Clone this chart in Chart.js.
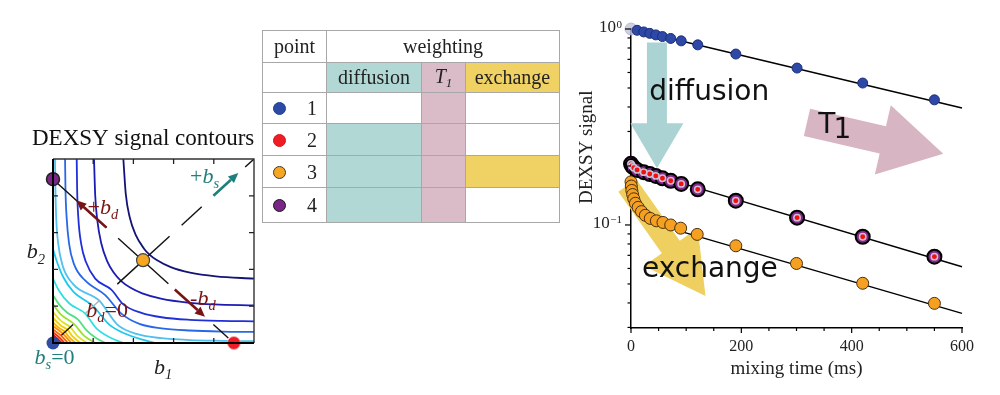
<!DOCTYPE html>
<html>
<head>
<meta charset="utf-8">
<script src="https://cdn.jsdelivr.net/npm/chart.js@4.4.1/dist/chart.umd.min.js"></script>
<style>
  html, body { margin:0; padding:0; background:#fff; }
  body { width:1000px; height:395px; position:relative; overflow:hidden; }
  #contourCanvas { position:absolute; left:0; top:115px; }
  #decayCanvas { position:absolute; left:560px; top:0; }
  #wtable { position:absolute; left:262px; top:30px; border-collapse:collapse; table-layout:fixed; width:297px;
            font-family:'Liberation Serif','Times New Roman',serif; font-size:20px; color:#222; }
  #wtable td { border:1px solid #a8a8a8; padding:0; text-align:center; vertical-align:middle; }
  .dot { display:inline-block; width:13px; height:13px; border-radius:50%; box-sizing:border-box; vertical-align:middle; }
</style>
</head>
<body>
<canvas id="contourCanvas" width="270" height="280"></canvas>
<table id="wtable"></table>
<canvas id="decayCanvas" width="440" height="395"></canvas>
<script>
// ---------------- DATA: decay curves (right panel) ----------------
const blueTime    = [0, 11, 23, 34, 45, 57, 72, 91, 121, 190, 301, 420, 550];
const blueSignal  = [1.0, 0.985, 0.966, 0.95, 0.933, 0.915, 0.895, 0.87, 0.83, 0.745, 0.632, 0.53, 0.435];
const purpleTime   = [0, 2, 5, 11, 23, 34, 45, 57, 72, 91, 121, 190, 301, 420, 550];
const purpleSignal = [0.205, 0.2, 0.196, 0.191, 0.186, 0.182, 0.178, 0.173, 0.168, 0.162, 0.152, 0.133, 0.109, 0.0871, 0.0689];
const redTime   = [0, 2, 5, 11, 23, 34, 45, 57, 72, 91, 121, 190, 301, 420, 550];
const redSignal = [0.205, 0.2, 0.196, 0.191, 0.186, 0.182, 0.178, 0.173, 0.168, 0.162, 0.152, 0.133, 0.109, 0.0871, 0.0689];
const orangeTime   = [0, 0.5, 1.5, 3, 5, 8, 13, 19, 26, 35, 46, 58, 72, 90, 120, 190, 300, 420, 550];
const orangeSignal = [0.166, 0.158, 0.15, 0.143, 0.136, 0.129, 0.123, 0.117, 0.112, 0.108, 0.105, 0.103, 0.1, 0.0963, 0.0895, 0.0783, 0.0636, 0.0504, 0.0398];
const fit1Time = [0, 600],  fit1Signal = [1.0, 0.395];
const fit24Time = [0, 600], fit24Signal = [0.195, 0.0612];
const fit3Time = [90, 600], fit3Signal = [0.0928, 0.0354];
const xTickMarks = [0, 50, 100, 150, 200, 250, 300, 350, 400, 450, 500, 550, 600];
const xLabelTicks = [0, 200, 400, 600];
const yMajorTicks = [1, 0.1];
const yMajorExponents = ['0', '\u22121'];
const yMinorTicks = [0.03, 0.04, 0.05, 0.06, 0.07, 0.08, 0.09, 0.2, 0.3, 0.4, 0.5, 0.6, 0.7, 0.8, 0.9];

// annotations (right panel), in data units
const annoArrows = [
  { from: [47, 0.854], to: [47, 0.195], shaft: 20, head: 53, len: 45, color: '#acd3d3' },
  { from: [319, 0.334], to: [566, 0.231], shaft: 28, head: 71, len: 62, color: '#d8b5c3' },
  { from: [-6.7, 0.159], to: [135, 0.0434], shaft: 22, head: 66, len: 60, color: '#efcf5f' }
];
const annoTexts = [
  { text: 'diffusion', at: [33.2, 0.435] },
  { text: 'T', sub: '1', at: [339.5, 0.295] },
  { text: 'exchange', at: [19.9, 0.0544] }
];

// ---------------- DATA: contour panel (left) ----------------
const contourX = [
  [1.75, 1.81, 1.91, 2.06, 2.26, 2.40, 2.57, 2.93, 3.41, 4.05, 5],
  [1.02, 1.05, 1.1, 1.2, 1.35, 1.5, 1.69, 1.93, 2.22, 2.71, 3.35, 4.01, 5],
  [0.59, 0.6, 0.63, 0.7, 0.82, 1.05, 1.45, 1.75, 2.2, 2.7, 3.4, 4.2, 5],
  [0.3, 0.31, 0.34, 0.4, 0.52, 0.8, 1.3, 1.7, 2.15, 2.7, 3.4, 4.2, 5],
  [0.05, 0.06, 0.08, 0.13, 0.24, 0.5, 1.15, 1.6, 2.1, 2.7, 3.4, 4.2, 5],
  [0, 0.1, 0.25, 0.5, 1.0, 1.4, 1.8, 2.2, 2.55],
  [0, 0.15, 0.4, 0.8, 1.08, 1.42, 1.75],
  [0, 0.15, 0.35, 0.63, 0.83, 1.05, 1.3],
  [0, 0.2, 0.52, 0.77, 1.05],
  [0, 0.2, 0.43, 0.6, 0.84],
  [0, 0.2, 0.36, 0.47, 0.68],
  [0, 0.15, 0.3, 0.41, 0.56],
  [0, 0.25, 0.46],
  [0, 0.2, 0.37],
  [0, 0.155, 0.29],
  [0, 0.115, 0.22],
  [0, 0.085, 0.16],
  [0, 0.053, 0.10]
];
const contourY = [
  [5, 4.05, 3.41, 2.93, 2.57, 2.40, 2.26, 2.06, 1.91, 1.81, 1.75],
  [5, 4.01, 3.35, 2.71, 2.22, 1.93, 1.69, 1.5, 1.35, 1.2, 1.1, 1.05, 1.02],
  [5, 4.2, 3.4, 2.7, 2.2, 1.75, 1.45, 1.05, 0.82, 0.7, 0.63, 0.6, 0.59],
  [5, 4.2, 3.4, 2.7, 2.15, 1.7, 1.3, 0.8, 0.52, 0.4, 0.34, 0.31, 0.3],
  [5, 4.2, 3.4, 2.7, 2.1, 1.6, 1.15, 0.5, 0.24, 0.13, 0.08, 0.06, 0.05],
  [2.55, 2.2, 1.8, 1.4, 1.0, 0.5, 0.25, 0.1, 0],
  [1.75, 1.42, 1.08, 0.8, 0.4, 0.15, 0],
  [1.3, 1.05, 0.83, 0.63, 0.35, 0.15, 0],
  [1.05, 0.77, 0.52, 0.2, 0],
  [0.84, 0.6, 0.43, 0.2, 0],
  [0.68, 0.47, 0.36, 0.2, 0],
  [0.56, 0.41, 0.3, 0.15, 0],
  [0.46, 0.25, 0],
  [0.37, 0.2, 0],
  [0.29, 0.155, 0],
  [0.22, 0.115, 0],
  [0.16, 0.085, 0],
  [0.10, 0.053, 0]
];
const contourColors = ['#141478', '#1c1cb4', '#2030d8', '#2868e8', '#50c0f0',
  '#20c8f0', '#30e0e0', '#50e080', '#a0e030', '#e0e020', '#f0d000', '#f8b000', '#f89000',
  '#f86000', '#f03000', '#e81000', '#d80000', '#c00000'];
const diagSegments = [[0.21, 0.5], [0.79, 1.17], [1.6, 2.9], [3.2, 3.7], [4.78, 5]];
const diagSegmentColors = ['#111', '#b0b0b0', '#111', '#111', '#111'];
const antiSegX = [[0.04, 1.33], [1.62, 2.87], [3.99, 4.36]];
const antiSegY = [[4.41, 3.135], [2.848, 1.612], [0.504, 0.138]];
const samplePointX = [0, 4.5, 2.24, 0];
const samplePointY = [0, 0, 2.25, 4.45];
const samplePointColors = ['#2f4ea3', '#ee1c24', '#f5a623', '#7b2589'];
const samplePointBorders = ['#2f4ea3', '#f7b0b0', '#444', '#222'];
const bdArrows = [[1.33, 3.135, 0.58, 3.876], [3.03, 1.454, 3.78, 0.712]];
const bsArrow = [3.99, 4.0, 4.61, 4.62];
const axisTicksL = [1, 2, 3, 4];

// ---------------- DATA: table ----------------
const tablePoints = ['1', '2', '3', '4'];
const tablePointColors = ['#2b4aa5', '#ee1c24', '#f5a623', '#7b2589'];
const tablePointBorders = ['#22408f', '#e0101a', '#3a3a3a', '#1a1a1a'];
const weightingNames = ['diffusion', 'T1', 'exchange'];
const weightingColors = ['#b2d8d6', '#dabcc8', '#f0d264'];
const weightingMatrix = [[0, 1, 0], [1, 1, 0], [1, 1, 1], [1, 1, 0]];
const colWidths = [64, 95, 44, 94];
const rowHeights = [32, 30, 31, 32, 32, 35];

// ---------------- helpers ----------------
const serif = "'Liberation Serif','Times New Roman',serif";
const sans = "'DejaVu Sans',Verdana,sans-serif";
const xy = (xs, ys) => xs.map((x, i) => ({ x: x, y: ys[i] }));

function drawBlockArrow(ctx, x0, y0, x1, y1, sw, hw, hl, color) {
  const dx = x1 - x0, dy = y1 - y0, L = Math.hypot(dx, dy);
  const ux = dx / L, uy = dy / L, nx = -uy, ny = ux;
  const bx = x1 - ux * hl, by = y1 - uy * hl;
  ctx.save();
  ctx.beginPath();
  ctx.moveTo(x0 + nx * sw / 2, y0 + ny * sw / 2);
  ctx.lineTo(bx + nx * sw / 2, by + ny * sw / 2);
  ctx.lineTo(bx + nx * hw / 2, by + ny * hw / 2);
  ctx.lineTo(x1, y1);
  ctx.lineTo(bx - nx * hw / 2, by - ny * hw / 2);
  ctx.lineTo(bx - nx * sw / 2, by - ny * sw / 2);
  ctx.lineTo(x0 - nx * sw / 2, y0 - ny * sw / 2);
  ctx.closePath();
  ctx.fillStyle = color;
  ctx.fill();
  ctx.restore();
}
function drawLineArrow(ctx, x0, y0, x1, y1, color, lw, hl, hw) {
  const dx = x1 - x0, dy = y1 - y0, L = Math.hypot(dx, dy);
  const ux = dx / L, uy = dy / L, nx = -uy, ny = ux;
  const bx = x1 - ux * hl, by = y1 - uy * hl;
  ctx.save();
  ctx.strokeStyle = color; ctx.fillStyle = color; ctx.lineWidth = lw; ctx.lineCap = 'butt';
  ctx.beginPath(); ctx.moveTo(x0, y0); ctx.lineTo(bx, by); ctx.stroke();
  ctx.beginPath(); ctx.moveTo(x1, y1);
  ctx.lineTo(bx + nx * hw, by + ny * hw); ctx.lineTo(bx - nx * hw, by - ny * hw);
  ctx.closePath(); ctx.fill();
  ctx.restore();
}
function rich(ctx, x, y, parts, size, color) {
  let cx = x;
  ctx.save();
  ctx.fillStyle = color; ctx.textBaseline = 'alphabetic'; ctx.textAlign = 'left';
  for (const [t, st] of parts) {
    const sub = st.includes('s'), it = st.includes('i');
    const fs = sub ? size * 0.66 : size;
    ctx.font = (it ? 'italic ' : '') + fs + 'px ' + serif;
    ctx.fillText(t, cx, y + (sub ? size * 0.24 : 0));
    cx += ctx.measureText(t).width;
  }
  ctx.restore();
}

// ---------------- table ----------------
(function buildTable() {
  const tbl = document.getElementById('wtable');
  let html = '<colgroup>' + colWidths.map(w => '<col style="width:' + w + 'px">').join('') + '</colgroup>';
  html += '<tr style="height:' + rowHeights[0] + 'px"><td>point</td><td colspan="3">weighting</td></tr>';
  html += '<tr style="height:' + rowHeights[1] + 'px"><td></td>' + weightingNames.map((n, j) =>
    '<td style="background:' + weightingColors[j] + '">' +
    (n === 'T1' ? '<i>T</i><sub style="font-size:13px;vertical-align:-4px"><i>1</i></sub>' : n) + '</td>').join('') + '</tr>';
  tablePoints.forEach((p, i) => {
    html += '<tr style="height:' + rowHeights[i + 2] + 'px"><td style="text-align:left;padding-left:10px">' +
      '<span class="dot" style="background:' + tablePointColors[i] + ';border:1px solid ' + tablePointBorders[i] + '"></span>' +
      '<span style="display:inline-block;margin-left:21px;vertical-align:middle">' + p + '</span></td>' +
      weightingMatrix[i].map((w, j) => '<td style="background:' + (w ? weightingColors[j] : '#fff') + '"></td>').join('') + '</tr>';
  });
  tbl.innerHTML = html;
})();

// ---------------- contour chart ----------------
const contourDatasets = [];
contourX.forEach((xs, i) => contourDatasets.push({
  data: xy(xs, contourY[i]), showLine: true, borderColor: contourColors[i], borderWidth: 1.8,
  pointRadius: 0, cubicInterpolationMode: 'monotone', order: 20
}));
diagSegments.forEach((s, i) => contourDatasets.push({
  data: [{ x: s[0], y: s[0] }, { x: s[1], y: s[1] }], showLine: true, borderColor: diagSegmentColors[i],
  borderWidth: 1.4, pointRadius: 0, order: 10
}));
antiSegX.forEach((s, i) => contourDatasets.push({
  data: xy(s, antiSegY[i]), showLine: true, borderColor: '#111', borderWidth: 1.4, pointRadius: 0, order: 10
}));
contourDatasets.push({
  data: xy(samplePointX, samplePointY), showLine: false, pointRadius: 6.5,
  pointBackgroundColor: samplePointColors, pointBorderColor: samplePointBorders,
  pointBorderWidth: [0, 1, 1.2, 1.5], order: 0, clip: false
});

const contourDecor = {
  id: 'contourDecor',
  afterDatasetsDraw(chart) {
    const { ctx, chartArea: a, scales: { x, y } } = chart;
    ctx.save();
    ctx.strokeStyle = '#333'; ctx.lineWidth = 1.4;
    ctx.beginPath(); ctx.moveTo(a.left, a.top); ctx.lineTo(a.right, a.top); ctx.lineTo(a.right, a.bottom); ctx.stroke();
    ctx.strokeStyle = '#000'; ctx.lineWidth = 2;
    ctx.beginPath(); ctx.moveTo(a.left, a.top); ctx.lineTo(a.left, a.bottom); ctx.lineTo(a.right, a.bottom); ctx.stroke();
    ctx.lineWidth = 1.3; ctx.strokeStyle = '#222';
    axisTicksL.forEach(v => {
      const px = x.getPixelForValue(v), py = y.getPixelForValue(v);
      ctx.beginPath();
      ctx.moveTo(px, a.bottom); ctx.lineTo(px, a.bottom - 5);
      ctx.moveTo(px, a.top); ctx.lineTo(px, a.top + 5);
      ctx.moveTo(a.left, py); ctx.lineTo(a.left + 5, py);
      ctx.moveTo(a.right, py); ctx.lineTo(a.right - 5, py);
      ctx.stroke();
    });
    ctx.restore();
    const maroon = '#7a1414', teal = '#1f7f7c';
    bdArrows.forEach(r => drawLineArrow(ctx, x.getPixelForValue(r[0]), y.getPixelForValue(r[1]),
      x.getPixelForValue(r[2]), y.getPixelForValue(r[3]), maroon, 2.6, 10, 4.5));
    drawLineArrow(ctx, x.getPixelForValue(bsArrow[0]), y.getPixelForValue(bsArrow[1]),
      x.getPixelForValue(bsArrow[2]), y.getPixelForValue(bsArrow[3]), teal, 2.6, 10, 4.5);
    const P = (vx, vy) => [x.getPixelForValue(vx), y.getPixelForValue(vy)];
    let p;
    p = P(0.86, 3.51); rich(ctx, p[0], p[1], [['+', 'n'], ['b', 'i'], ['d', 'is']], 22, maroon);
    p = P(3.41, 1.03); rich(ctx, p[0], p[1], [['-', 'n'], ['b', 'i'], ['d', 'is']], 22, maroon);
    p = P(0.83, 0.71); rich(ctx, p[0], p[1], [['b', 'i'], ['d', 'is'], ['=0', 'n']], 22, maroon);
    p = P(3.41, 4.35); rich(ctx, p[0], p[1], [['+', 'n'], ['b', 'i'], ['s', 'is']], 22, teal);
    p = P(-0.46, -0.56); rich(ctx, p[0], p[1], [['b', 'i'], ['s', 'is'], ['=0', 'n']], 22, teal);
    p = P(2.51, -0.83); rich(ctx, p[0], p[1], [['b', 'i'], ['1', 'is']], 22, '#222');
    p = P(-0.65, 2.3); rich(ctx, p[0], p[1], [['b', 'i'], ['2', 'is']], 22, '#222');
    ctx.save();
    ctx.font = '23px ' + serif; ctx.fillStyle = '#111'; ctx.textAlign = 'left'; ctx.textBaseline = 'alphabetic';
    ctx.fillText('DEXSY signal contours', 32, 30);
    ctx.restore();
  }
};

new Chart(document.getElementById('contourCanvas'), {
  type: 'scatter',
  data: { datasets: contourDatasets },
  options: {
    responsive: false, animation: false, events: [],
    plugins: { legend: { display: false }, tooltip: { enabled: false } },
    layout: { padding: { left: 53, right: 16, top: 44, bottom: 52 } },
    scales: {
      x: { type: 'linear', min: 0, max: 5, display: false },
      y: { type: 'linear', min: 0, max: 5, display: false }
    }
  },
  plugins: [contourDecor]
});

// ---------------- decay chart ----------------
const lineDs = (xs, ys) => ({ data: xy(xs, ys), showLine: true, borderColor: '#000', borderWidth: 1.4, pointRadius: 0, order: 10, clip: false });

const decayDecor = {
  id: 'decayDecor',
  beforeDatasetsDraw(chart) {
    const { ctx, scales: { x, y } } = chart;
    annoArrows.forEach(a => drawBlockArrow(ctx,
      x.getPixelForValue(a.from[0]), y.getPixelForValue(a.from[1]),
      x.getPixelForValue(a.to[0]), y.getPixelForValue(a.to[1]), a.shaft, a.head, a.len, a.color));
  },
  afterDatasetsDraw(chart) {
    const { ctx, scales: { x, y } } = chart;
    ctx.save();
    ctx.fillStyle = '#111'; ctx.textAlign = 'left'; ctx.textBaseline = 'alphabetic';
    annoTexts.forEach(t => {
      const px = x.getPixelForValue(t.at[0]), py = y.getPixelForValue(t.at[1]);
      ctx.font = '28px ' + sans;
      ctx.fillText(t.text, px, py);
      if (t.sub) {
        const w = ctx.measureText(t.text).width;
        ctx.fillText(t.sub, px + w - 2, py + 5);
      }
    });
    ctx.restore();
  },
  afterDraw(chart) {
    const { ctx, chartArea: a, scales: { x, y } } = chart;
    ctx.save();
    ctx.strokeStyle = '#000'; ctx.lineWidth = 1.2;
    xTickMarks.forEach(v => {
      const px = x.getPixelForValue(v);
      const len = xLabelTicks.includes(v) ? 5 : 3;
      ctx.beginPath(); ctx.moveTo(px, a.bottom); ctx.lineTo(px, a.bottom + len); ctx.stroke();
    });
    yMinorTicks.forEach(v => {
      const py = y.getPixelForValue(v);
      ctx.beginPath(); ctx.moveTo(a.left, py); ctx.lineTo(a.left - 3.5, py); ctx.stroke();
    });
    yMajorTicks.forEach((v, i) => {
      const py = y.getPixelForValue(v);
      ctx.beginPath(); ctx.moveTo(a.left, py); ctx.lineTo(a.left - 6, py); ctx.stroke();
      ctx.fillStyle = '#222';
      ctx.font = '11px ' + serif;
      const ew = ctx.measureText(yMajorExponents[i]).width;
      const right = a.left - 9;
      ctx.textAlign = 'left'; ctx.textBaseline = 'alphabetic';
      ctx.fillText(yMajorExponents[i], right - ew, py - 1.5);
      ctx.font = '17px ' + serif;
      ctx.textAlign = 'right'; ctx.textBaseline = 'middle';
      ctx.fillText('10', right - ew - 0.5, py - 1);
    });
    ctx.translate(a.left - 44.3, y.getPixelForValue(0.249));
    ctx.rotate(-Math.PI / 2);
    ctx.font = '19px ' + serif; ctx.fillStyle = '#222';
    ctx.textAlign = 'center'; ctx.textBaseline = 'middle';
    ctx.fillText('DEXSY signal', 0, 0);
    ctx.restore();
  }
};

new Chart(document.getElementById('decayCanvas'), {
  type: 'scatter',
  data: {
    datasets: [
      lineDs(fit1Time, fit1Signal),
      lineDs(fit24Time, fit24Signal),
      lineDs(fit3Time, fit3Signal),
      { label: 'point 1', data: xy(blueTime, blueSignal), pointRadius: blueTime.map((t, i) => i === 0 ? 6 : 5),
        pointBackgroundColor: blueTime.map((t, i) => i === 0 ? 'rgba(195,195,220,0.8)' : '#2d48a6'),
        pointBorderColor: blueTime.map((t, i) => i === 0 ? 'rgba(170,170,200,0.7)' : '#1d2f78'),
        pointBorderWidth: 1, order: 4, clip: false },
      { label: 'point 3', data: xy(orangeTime, orangeSignal), pointRadius: 6,
        pointBackgroundColor: '#f5a020', pointBorderColor: '#4a3010', pointBorderWidth: 1, order: 4, clip: false },
      { label: 'point 4', data: xy(purpleTime, purpleSignal), pointRadius: 7,
        pointBackgroundColor: '#82288c', pointBorderColor: '#000', pointBorderWidth: 2, order: 3, clip: false },
      { label: 'point 2', data: xy(redTime, redSignal), pointRadius: 3.2,
        pointBackgroundColor: '#f01010', pointBorderColor: '#cdbfd4', pointBorderWidth: 1.5, order: 1, clip: false }
    ]
  },
  options: {
    responsive: false, animation: false, events: [],
    plugins: { legend: { display: false }, tooltip: { enabled: false } },
    layout: { padding: { left: 0, right: 38, top: 29, bottom: 0 } },
    scales: {
      x: {
        type: 'linear', min: 0, max: 600,
        grid: { display: false, drawTicks: false },
        border: { display: true, color: '#000', width: 1.5 },
        ticks: { stepSize: 50, autoSkip: false, maxRotation: 0, padding: 9, color: '#222',
          font: { family: serif, size: 16 },
          callback: v => (xLabelTicks.includes(v) ? String(v) : '') },
        title: { display: true, text: 'mixing time (ms)', color: '#222', font: { family: serif, size: 19 },
          padding: { top: 0, bottom: 15 } },
        afterFit: s => { s.height = 67; }
      },
      y: {
        type: 'logarithmic', min: 0.0298, max: 1,
        grid: { display: false, drawTicks: false },
        border: { display: true, color: '#000', width: 1.5 },
        ticks: { display: false },
        afterFit: s => { s.width = 71; }
      }
    }
  },
  plugins: [decayDecor]
});
</script>
</body>
</html>
